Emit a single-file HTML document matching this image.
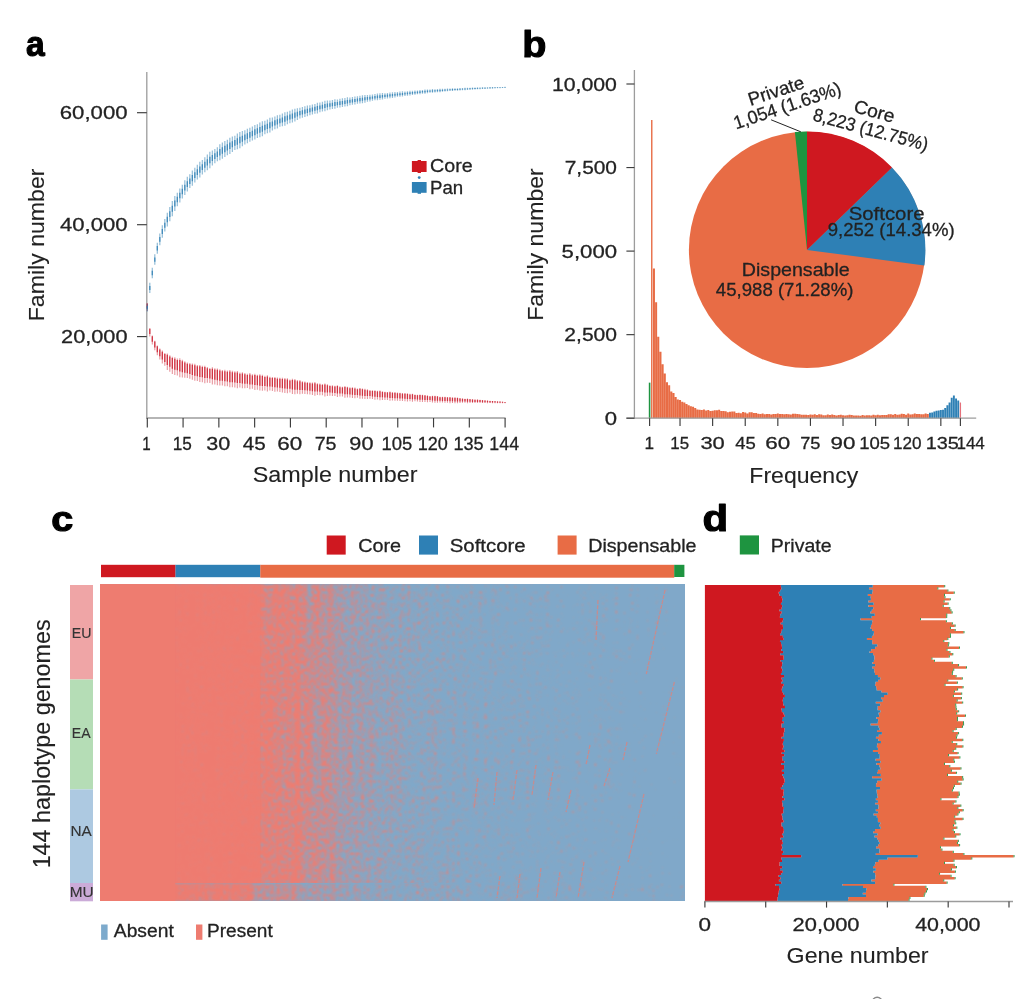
<!DOCTYPE html>
<html lang="en">
<head>
<meta charset="utf-8">
<title>Pan-genome figure</title>
<style>
html,body{margin:0;padding:0;background:#fff;}
body{width:1024px;height:999px;overflow:hidden;}
svg{display:block;}
svg text{font-family:"Liberation Sans",sans-serif;fill:#222222;stroke:#222222;stroke-width:0.28px;}
svg text.pl{fill:#000;stroke:#000;stroke-width:1.1px;stroke-linejoin:round;}
svg text.gl{fill:#333;stroke:#333;stroke-width:0.15px;}
svg text.bg{stroke-width:0.1px;}
</style>
</head>
<body>
<svg width="1024" height="999" viewBox="0 0 1024 999">
<g id="panel-a">
<text x="25.99" y="56.2" font-size="35.5" textLength="18.71" lengthAdjust="spacingAndGlyphs" font-weight="bold" class="pl">a</text>
<line x1="146.8" y1="72" x2="146.8" y2="418.6" stroke="#9c9c9c" stroke-width="1.3"/>
<line x1="146.2" y1="418" x2="505.6" y2="418" stroke="#9c9c9c" stroke-width="1.3"/>
<line x1="137" y1="112.7" x2="146.8" y2="112.7" stroke="#3c3c3c" stroke-width="1.15"/>
<text x="59.79" y="119.3" font-size="19.1" textLength="67.75" lengthAdjust="spacingAndGlyphs">60,000</text>
<line x1="137" y1="224.7" x2="146.8" y2="224.7" stroke="#3c3c3c" stroke-width="1.15"/>
<text x="59.96" y="231.3" font-size="19.1" textLength="67.59" lengthAdjust="spacingAndGlyphs">40,000</text>
<line x1="137" y1="336.6" x2="146.8" y2="336.6" stroke="#3c3c3c" stroke-width="1.15"/>
<text x="61.11" y="343.2" font-size="19.1" textLength="66.42" lengthAdjust="spacingAndGlyphs">20,000</text>
<line x1="147.3" y1="418" x2="147.3" y2="427.4" stroke="#3c3c3c" stroke-width="1.15"/>
<text x="142.36" y="449.7" font-size="18.8" textLength="8.44" lengthAdjust="spacingAndGlyphs">1</text>
<line x1="183.08" y1="418" x2="183.08" y2="427.4" stroke="#3c3c3c" stroke-width="1.15"/>
<text x="172.74" y="449.7" font-size="18.8" textLength="19.12" lengthAdjust="spacingAndGlyphs">15</text>
<line x1="218.86" y1="418" x2="218.86" y2="427.4" stroke="#3c3c3c" stroke-width="1.15"/>
<text x="206.35" y="449.7" font-size="18.8" textLength="23.97" lengthAdjust="spacingAndGlyphs">30</text>
<line x1="254.64" y1="418" x2="254.64" y2="427.4" stroke="#3c3c3c" stroke-width="1.15"/>
<text x="242.88" y="449.7" font-size="18.8" textLength="22.99" lengthAdjust="spacingAndGlyphs">45</text>
<line x1="290.42" y1="418" x2="290.42" y2="427.4" stroke="#3c3c3c" stroke-width="1.15"/>
<text x="277.3" y="449.7" font-size="18.8" textLength="24.96" lengthAdjust="spacingAndGlyphs">60</text>
<line x1="326.2" y1="418" x2="326.2" y2="427.4" stroke="#3c3c3c" stroke-width="1.15"/>
<text x="314.66" y="449.7" font-size="18.8" textLength="21.92" lengthAdjust="spacingAndGlyphs">75</text>
<line x1="361.98" y1="418" x2="361.98" y2="427.4" stroke="#3c3c3c" stroke-width="1.15"/>
<text x="349.36" y="449.7" font-size="18.8" textLength="24.08" lengthAdjust="spacingAndGlyphs">90</text>
<line x1="397.76" y1="418" x2="397.76" y2="427.4" stroke="#3c3c3c" stroke-width="1.15"/>
<text x="381.58" y="449.7" font-size="18.8" textLength="30.79" lengthAdjust="spacingAndGlyphs">105</text>
<line x1="433.54" y1="418" x2="433.54" y2="427.4" stroke="#3c3c3c" stroke-width="1.15"/>
<text x="417.63" y="449.7" font-size="18.8" textLength="30.15" lengthAdjust="spacingAndGlyphs">120</text>
<line x1="469.32" y1="418" x2="469.32" y2="427.4" stroke="#3c3c3c" stroke-width="1.15"/>
<text x="453.41" y="449.7" font-size="18.8" textLength="30.25" lengthAdjust="spacingAndGlyphs">135</text>
<line x1="505.1" y1="418" x2="505.1" y2="427.4" stroke="#3c3c3c" stroke-width="1.15"/>
<text x="489.36" y="449.7" font-size="18.8" textLength="29.73" lengthAdjust="spacingAndGlyphs">144</text>
<text x="252.75" y="481.7" font-size="21.5" textLength="164.7" lengthAdjust="spacingAndGlyphs" class="bg">Sample number</text>
<text x="-1.85" y="0" font-size="21.5" textLength="152.66" lengthAdjust="spacingAndGlyphs" class="bg" transform="translate(44.4 319.4) rotate(-90)">Family number</text>
<path d="M147.3 303v8M149.8 328.19v8.23M152.3 335.47v9.08M154.8 340.67v9.68M157.31 345.38v9.87M159.81 348.5v11.02M162.31 350.62v12.78M164.81 352.98v12.75M167.31 353.54v16.34M169.81 355.19v16.65M172.31 356.67v17.28M174.82 357.24v17.82M177.32 358.58v16.81M179.82 358.36v18.93M182.32 359.83v17.68M184.82 361.22v16.57M187.32 362.5v15.42M189.83 363v15.81M192.33 363.38v16.46M194.83 363.87v16.88M197.33 365.09v15.84M199.83 364.93v17.12M202.33 365.64v16.68M204.83 365.65v17.63M207.34 367.11v15.67M209.84 367.89v15.09M212.34 367.35v17.14M214.84 368.28v16.23M217.34 368.5v16.78M219.84 369.15v16.44M222.35 369.94v15.52M224.85 369.85v16.35M227.35 370.44v15.84M229.85 370.02v17.31M232.35 370.83v16.34M234.85 371.14v16.38M237.35 371.05v17.22M239.86 372.52v14.93M242.36 372.26v16.07M244.86 372.92v15.36M247.36 373.79v14.24M249.86 373.12v16.19M252.36 374.26v14.53M254.86 373.65v16.38M257.37 374.63v15.03M259.87 374.31v16.29M262.37 374.68v16.17M264.87 375.69v14.75M267.37 375.33v16.1M269.87 376.76v13.85M272.38 376.98v14.04M274.88 376.94v14.73M277.38 377.59v14.02M279.88 377.68v14.42M282.38 377.78v14.79M284.88 377.92v15.09M287.38 378.35v14.82M289.89 379.49v13.13M292.39 378.76v15.16M294.89 379.06v15.15M297.39 380.02v13.81M299.89 380.09v14.26M302.39 381.26v12.5M304.89 381.52v12.56M307.4 382.06v12.08M309.9 382.31v12.15M312.4 382.39v12.5M314.9 382.09v13.59M317.4 383.36v11.57M319.9 383.46v11.86M322.41 384.08v11.12M324.91 383.4v12.99M327.41 384.35v11.58M329.91 385.14v10.5M332.41 385.3v10.67M334.91 385.73v10.33M337.41 385.17v11.95M339.92 386.35v10.07M342.42 386.79v9.71M344.92 386.08v11.61M347.42 386.7v10.89M349.92 387.35v10.08M352.42 387.24v10.8M354.92 387.55v10.68M357.43 388.42v9.45M359.93 387.97v10.84M362.43 388.46v10.36M364.93 388.84v10.1M367.43 389.37v9.55M369.93 390.14v8.51M372.44 390.21v8.87M374.94 390.14v9.51M377.44 390.67v8.94M379.94 390.5v9.79M382.44 391.35v8.56M384.94 391.7v8.21M387.44 391.95v8.05M389.95 391.59v9.12M392.45 392.18v8.29M394.95 392.15v8.69M397.45 392.49v8.35M399.95 392.63v8.42M402.45 393.1v7.83M404.95 393.09v8.2M407.46 393.31v8.09M409.96 393.85v7.37M412.46 393.67v8.07M414.96 394.47v6.81M417.46 394.7v6.68M419.96 394.47v7.5M422.47 394.69v7.41M424.97 395.03v7.06M427.47 395.34v6.8M429.97 395.92v5.97M432.47 395.73v6.7M434.97 395.78v6.95M437.47 396.05v6.75M439.98 396.69v5.81M442.48 396.81v5.8M444.98 396.81v6.04M447.48 397.08v5.73M449.98 396.97v6.18M452.48 397.4v5.55M454.98 397.38v5.82M457.49 397.61v5.59M459.99 398.04v4.97M462.49 398.51v4.27M464.99 398.65v4.21M467.49 398.6v4.54M469.99 398.97v4.04M472.5 399.16v3.88M475 399.4v3.63M477.5 399.53v3.59M480 399.82v3.25M482.5 400.12v2.88M485 400.26v2.83M487.5 400.41v2.77M490.01 400.7v2.42M492.51 400.89v2.26M495.01 401.07v2.14M497.51 401.31v1.89M500.01 401.45v1.83M502.51 401.68v1.6M505.01 401.98v1.24" stroke="#CC2030" stroke-width="1.1" stroke-opacity="0.48" fill="none"/>
<path d="M147.3 303.64v4.96M149.8 328.85v5.1M152.3 336.19v5.63M154.8 341.44v6M157.31 346.16v6.12M159.81 349.38v6.83M162.31 351.64v7.93M164.81 354v7.91M167.31 354.84v10.13M169.81 356.52v10.32M172.31 358.05v10.71M174.82 358.66v11.05M177.32 359.93v10.42M179.82 359.88v11.73M182.32 361.24v10.96M184.82 362.55v10.27M187.32 363.73v9.56M189.83 364.27v9.8M192.33 364.7v10.2M194.83 365.22v10.47M197.33 366.35v9.82M199.83 366.3v10.62M202.33 366.97v10.34M204.83 367.06v10.93M207.34 368.36v9.72M209.84 369.09v9.35M212.34 368.72v10.63M214.84 369.58v10.06M217.34 369.84v10.4M219.84 370.47v10.19M222.35 371.18v9.63M224.85 371.16v10.14M227.35 371.7v9.82M229.85 371.41v10.73M232.35 372.14v10.13M234.85 372.45v10.16M237.35 372.42v10.68M239.86 373.71v9.26M242.36 373.54v9.96M244.86 374.15v9.53M247.36 374.93v8.83M249.86 374.42v10.04M252.36 375.42v9.01M254.86 374.96v10.15M257.37 375.83v9.32M259.87 375.61v10.1M262.37 375.97v10.02M264.87 376.88v9.15M267.37 376.62v9.98M269.87 377.87v8.59M272.38 378.1v8.7M274.88 378.12v9.13M277.38 378.71v8.69M279.88 378.83v8.94M282.38 378.97v9.17M284.88 379.13v9.36M287.38 379.54v9.19M289.89 380.54v8.14M292.39 379.98v9.4M294.89 380.27v9.39M297.39 381.13v8.56M299.89 381.23v8.84M302.39 382.26v7.75M304.89 382.53v7.79M307.4 383.02v7.49M309.9 383.29v7.53M312.4 383.39v7.75M314.9 383.18v8.43M317.4 384.28v7.17M319.9 384.41v7.35M322.41 384.97v6.89M324.91 384.44v8.05M327.41 385.28v7.18M329.91 385.98v6.51M332.41 386.16v6.62M334.91 386.55v6.4M337.41 386.12v7.41M339.92 387.16v6.25M342.42 387.57v6.02M344.92 387.01v7.2M347.42 387.57v6.75M349.92 388.16v6.25M352.42 388.11v6.69M354.92 388.4v6.62M357.43 389.18v5.86M359.93 388.84v6.72M362.43 389.29v6.42M364.93 389.65v6.26M367.43 390.13v5.92M369.93 390.82v5.28M372.44 390.92v5.5M374.94 390.9v5.9M377.44 391.39v5.55M379.94 391.28v6.07M382.44 392.03v5.31M384.94 392.36v5.09M387.44 392.59v4.99M389.95 392.32v5.65M392.45 392.84v5.14M394.95 392.84v5.39M397.45 393.16v5.17M399.95 393.3v5.22M402.45 393.72v4.85M404.95 393.74v5.08M407.46 393.96v5.02M409.96 394.43v4.57M412.46 394.31v5M414.96 395.01v4.22M417.46 395.24v4.14M419.96 395.07v4.65M422.47 395.28v4.59M424.97 395.6v4.38M427.47 395.88v4.21M429.97 396.4v3.7M432.47 396.27v4.15M434.97 396.34v4.31M437.47 396.59v4.18M439.98 397.16v3.6M442.48 397.28v3.6M444.98 397.29v3.75M447.48 397.54v3.55M449.98 397.46v3.83M452.48 397.84v3.44M454.98 397.85v3.61M457.49 398.06v3.47M459.99 398.43v3.08M462.49 398.85v2.64M464.99 398.98v2.61M467.49 398.96v2.81M469.99 399.29v2.5M472.5 399.47v2.41M475 399.69v2.25M477.5 399.82v2.23M480 400.08v2.01M482.5 400.35v1.79M485 400.49v1.76M487.5 400.63v1.72M490.01 400.89v1.5M492.51 401.08v1.4M495.01 401.24v1.33M497.51 401.46v1.17M500.01 401.6v1.13M502.51 401.81v0.99M505.01 402.08v0.77" stroke="#CC2030" stroke-width="1.3" stroke-opacity="0.85" fill="none"/>
<path d="M147.3 303.71v7.77M149.8 282.87v10.24M152.3 267.63v10.73M154.8 254.34v10.53M157.31 242.63v11.11M159.81 233.59v11.55M162.31 225.13v12.65M164.81 219.01v12.41M167.31 212.64v13.88M169.81 207.02v14.17M172.31 201.12v15.17M174.82 195.99v15.01M177.32 192.79v13.49M179.82 188.58v13.96M182.32 184.71v13.76M184.82 180.16v14.92M187.32 176.73v14.81M189.83 174.25v13.76M192.33 170.46v15.33M194.83 167.85v14.55M197.33 164.67v14.91M199.83 161.75v15.76M202.33 159.96v14.46M204.83 157.17v15.16M207.34 154.48v15.68M209.84 151.87v16.31M212.34 150.61v14.98M214.84 148.98v14.35M217.34 147.17v14.1M219.84 144.34v15.9M222.35 142.5v16.19M224.85 141.12v15.78M227.35 139.66v15.52M229.85 137.74v16.18M232.35 136.6v15.31M234.85 135.71v14.32M237.35 133.58v15.79M239.86 131.96v16.25M242.36 131.1v15.19M244.86 130.2v14.32M247.36 128.83v14.51M249.86 127.77v14.08M252.36 126.5v14.09M254.86 125v14.54M257.37 124.26v13.64M259.87 122.62v14.56M262.37 121.23v15M264.87 120.75v13.6M267.37 119.57v13.61M269.87 117.82v14.76M272.38 117.59v12.87M274.88 116.43v12.83M277.38 115.13v13.41M279.88 114.86v12.01M282.38 113.6v12.61M284.88 112.13v13.62M287.38 111.7v12.56M289.89 110.66v12.7M292.39 109.57v12.95M294.89 108.72v12.72M297.39 108.3v11.62M299.89 107.7v10.91M302.39 107.01v10.67M304.89 106.25v10.77M307.4 105.51v10.84M309.9 105.18v10.07M312.4 104.47v10.09M314.9 103.91v9.8M317.4 102.79v10.62M319.9 102.46v9.84M322.41 101.75v9.86M324.91 100.74v10.45M327.41 100.55v9.67M329.91 100.47v8.92M332.41 99.91v9.14M334.91 99.18v9.68M337.41 99.4v8.34M339.92 98.67v8.89M342.42 98.3v8.73M344.92 97.94v8.54M347.42 97.35v8.82M349.92 97.38v7.86M352.42 97.08v7.58M354.92 96.52v7.88M357.43 96.33v7.47M359.93 95.71v7.88M362.43 95.37v7.76M364.93 95.08v7.55M367.43 95.09v6.71M369.93 94.69v6.69M372.44 94.55v6.18M374.94 94.1v6.27M377.44 93.44v6.82M379.94 93.24v6.62M382.44 93.03v6.46M384.94 93.16v5.6M387.44 92.96v5.42M389.95 92.55v5.64M392.45 92.25v5.66M394.95 92.12v5.33M397.45 92.11v4.75M399.95 91.54v5.3M402.45 91.37v5.05M404.95 91.39v4.5M407.46 91.13v4.5M409.96 90.7v4.85M412.46 90.71v4.33M414.96 90.4v4.43M417.46 90.4v3.92M419.96 89.95v4.31M422.47 89.99v3.71M424.97 89.53v4.11M427.47 89.53v3.62M429.97 89.47v3.38M432.47 89.12v3.74M434.97 89.13v3.37M437.47 89.05v3.21M439.98 88.84v3.29M442.48 88.87v2.9M444.98 88.76v2.78M447.48 88.62v2.72M449.98 88.52v2.59M452.48 88.34v2.62M454.98 88.19v2.64M457.49 88.13v2.5M459.99 88.02v2.46M462.49 87.92v2.4M464.99 87.85v2.29M467.49 87.83v2.06M469.99 87.71v2.05M472.5 87.52v2.17M475 87.5v1.96M477.5 87.37v1.96M480 87.37v1.76M482.5 87.3v1.73M485 87.18v1.8M487.5 87.17v1.66M490.01 87.08v1.67M492.51 87.07v1.52M495.01 87.04v1.41M497.51 87v1.32M500.01 86.95v1.25M502.51 86.88v1.22M505.01 86.82v1.18" stroke="#2E7FB4" stroke-width="1.25" stroke-opacity="0.5" fill="none"/>
<path d="M147.3 306.05v3.11M149.8 285.95v4.1M152.3 270.85v4.29M154.8 257.5v4.21M157.31 245.96v4.44M159.81 237.05v4.62M162.31 228.92v5.06M164.81 222.74v4.96M167.31 216.8v5.55M169.81 211.27v5.67M172.31 205.68v6.07M174.82 200.5v6.01M177.32 196.83v5.39M179.82 192.77v5.58M182.32 188.84v5.5M184.82 184.64v5.97M187.32 181.17v5.92M189.83 178.38v5.5M192.33 175.06v6.13M194.83 172.22v5.82M197.33 169.14v5.96M199.83 166.47v6.3M202.33 164.3v5.78M204.83 161.72v6.06M207.34 159.18v6.27M209.84 156.77v6.53M212.34 155.1v5.99M214.84 153.29v5.74M217.34 151.4v5.64M219.84 149.11v6.36M222.35 147.35v6.48M224.85 145.85v6.31M227.35 144.31v6.21M229.85 142.59v6.47M232.35 141.2v6.12M234.85 140v5.73M237.35 138.32v6.32M239.86 136.83v6.5M242.36 135.65v6.08M244.86 134.5v5.73M247.36 133.19v5.8M249.86 132v5.63M252.36 130.73v5.63M254.86 129.36v5.82M257.37 128.35v5.46M259.87 126.99v5.83M262.37 125.73v6M264.87 124.83v5.44M267.37 123.65v5.44M269.87 122.25v5.9M272.38 121.45v5.15M274.88 120.28v5.13M277.38 119.15v5.37M279.88 118.47v4.81M282.38 117.39v5.04M284.88 116.22v5.45M287.38 115.47v5.02M289.89 114.47v5.08M292.39 113.46v5.18M294.89 112.54v5.09M297.39 111.79v4.65M299.89 110.97v4.36M302.39 110.21v4.27M304.89 109.48v4.31M307.4 108.76v4.34M309.9 108.21v4.03M312.4 107.49v4.04M314.9 106.84v3.92M317.4 105.97v4.25M319.9 105.42v3.94M322.41 104.7v3.94M324.91 103.88v4.18M327.41 103.45v3.87M329.91 103.14v3.57M332.41 102.65v3.66M334.91 102.09v3.87M337.41 101.9v3.33M339.92 101.34v3.56M342.42 100.92v3.49M344.92 100.5v3.42M347.42 99.99v3.53M349.92 99.73v3.14M352.42 99.35v3.03M354.92 98.89v3.15M357.43 98.57v2.99M359.93 98.08v3.15M362.43 97.7v3.1M364.93 97.34v3.02M367.43 97.1v2.68M369.93 96.7v2.68M372.44 96.4v2.47M374.94 95.98v2.51M377.44 95.48v2.73M379.94 95.23v2.65M382.44 94.96v2.59M384.94 94.84v2.24M387.44 94.58v2.17M389.95 94.24v2.26M392.45 93.94v2.26M394.95 93.71v2.13M397.45 93.54v1.9M399.95 93.13v2.12M402.45 92.88v2.02M404.95 92.74v1.8M407.46 92.48v1.8M409.96 92.16v1.94M412.46 92.01v1.73M414.96 91.73v1.77M417.46 91.57v1.57M419.96 91.24v1.72M422.47 91.1v1.48M424.97 90.77v1.65M427.47 90.61v1.45M429.97 90.48v1.35M432.47 90.24v1.49M434.97 90.15v1.35M437.47 90.01v1.28M439.98 89.83v1.32M442.48 89.74v1.16M444.98 89.59v1.11M447.48 89.44v1.09M449.98 89.3v1.04M452.48 89.12v1.05M454.98 88.98v1.06M457.49 88.88v1M459.99 88.76v0.98M462.49 88.64v0.96M464.99 88.54v0.92M467.49 88.45v0.82M469.99 88.33v0.82M472.5 88.17v0.87M475 88.09v0.79M477.5 87.96v0.79M480 87.9v0.7M482.5 87.82v0.69M485 87.72v0.72M487.5 87.66v0.66M490.01 87.58v0.67M492.51 87.52v0.61M495.01 87.46v0.57M497.51 87.39v0.53M500.01 87.32v0.5M502.51 87.25v0.49M505.01 87.17v0.47" stroke="#2E7FB4" stroke-width="1.35" stroke-opacity="0.8" fill="none"/>
<rect x="411.9" y="161" width="14.7" height="11" fill="#CF1820"/>
<rect x="417.6" y="160" width="3.4" height="13" fill="#CF1820"/>
<circle cx="419.2" cy="177.6" r="1.4" fill="#2E80B5"/>
<rect x="411.9" y="182" width="14.7" height="10.8" fill="#2E80B5"/>
<rect x="417.6" y="182" width="3.4" height="11.8" fill="#2E80B5"/>
<text x="430.12" y="172.4" font-size="18.5" textLength="42.62" lengthAdjust="spacingAndGlyphs">Core</text>
<text x="430.01" y="193.7" font-size="18.5" textLength="33.19" lengthAdjust="spacingAndGlyphs">Pan</text>
</g>
<g id="panel-b">
<text x="522.23" y="56.6" font-size="37.2" textLength="24.19" lengthAdjust="spacingAndGlyphs" font-weight="bold" class="pl">b</text>
<path d="M649.6 418.2v-35.56" stroke="#1E9440" stroke-width="1.6" fill="none"/>
<path d="M651.77 418.2v-298.21" stroke="#E86C45" stroke-width="1.4" fill="none"/>
<path d="M960.4 418.2v-15.7" stroke="#E5707A" stroke-width="1.3" fill="none"/>
<path d="M653.95 418.2v-149.82M656.12 418.2v-115.83M658.29 418.2v-81.34M660.47 418.2v-66.47M662.64 418.2v-53.97M664.81 418.2v-44.62M666.99 418.2v-36.03M669.16 418.2v-32.89M671.33 418.2v-26.74M673.51 418.2v-25.1M675.68 418.2v-21.19M677.85 418.2v-18.72M680.03 418.2v-18.08M682.2 418.2v-16.51M684.37 418.2v-15.64M686.55 418.2v-14.17M688.72 418.2v-12.87M690.89 418.2v-11.83M693.07 418.2v-11.53M695.24 418.2v-10.26M697.41 418.2v-8.72M699.59 418.2v-8.36M701.76 418.2v-8.19M703.94 418.2v-8.76M706.11 418.2v-7.75M708.28 418.2v-8.19M710.46 418.2v-7.15M712.63 418.2v-7.52M714.8 418.2v-7.98M716.98 418.2v-7.96M719.15 418.2v-8.52M721.32 418.2v-7.24M723.5 418.2v-7.11M725.67 418.2v-7.07M727.84 418.2v-6.06M730.02 418.2v-6.53M732.19 418.2v-6.58M734.36 418.2v-6.71M736.54 418.2v-5.28M738.71 418.2v-5.53M740.88 418.2v-5.03M743.06 418.2v-6.13M745.23 418.2v-5.8M747.4 418.2v-4.63M749.58 418.2v-6.02M751.75 418.2v-5.88M753.92 418.2v-5.29M756.1 418.2v-5.13M758.27 418.2v-4.37M760.44 418.2v-4.09M762.62 418.2v-4.74M764.79 418.2v-4.02M766.96 418.2v-4.13M769.14 418.2v-4.13M771.31 418.2v-3.79M773.48 418.2v-4.3M775.66 418.2v-4.21M777.83 418.2v-4.65M780 418.2v-4.19M782.18 418.2v-4.28M784.35 418.2v-4.05M786.52 418.2v-4.2M788.7 418.2v-3.9M790.87 418.2v-3.64M793.04 418.2v-4.43M795.22 418.2v-4.38M797.39 418.2v-4.15M799.56 418.2v-3.96M801.74 418.2v-3.48M803.91 418.2v-3.35M806.08 418.2v-3.38M808.26 418.2v-3.11M810.43 418.2v-3.82M812.61 418.2v-3.4M814.78 418.2v-3.83M816.95 418.2v-3.32M819.13 418.2v-3.87M821.3 418.2v-3.73M823.47 418.2v-2.84M825.65 418.2v-3.03M827.82 418.2v-3.69M829.99 418.2v-3.23M832.17 418.2v-3.7M834.34 418.2v-3.11M836.51 418.2v-2.78M838.69 418.2v-3.29M840.86 418.2v-3.4M843.03 418.2v-2.9M845.21 418.2v-2.71M847.38 418.2v-2.92M849.55 418.2v-3.48M851.73 418.2v-3.27M853.9 418.2v-2.67M856.07 418.2v-2.76M858.25 418.2v-2.62M860.42 418.2v-2.56M862.59 418.2v-3.2M864.77 418.2v-2.64M866.94 418.2v-3.03M869.11 418.2v-2.98M871.29 418.2v-2.8M873.46 418.2v-3.36M875.63 418.2v-2.85M877.81 418.2v-3.4M879.98 418.2v-2.94M882.15 418.2v-3.3M884.33 418.2v-3.14M886.5 418.2v-3.26M888.67 418.2v-4.06M890.85 418.2v-3.95M893.02 418.2v-3.46M895.19 418.2v-4.17M897.37 418.2v-3.47M899.54 418.2v-3.74M901.71 418.2v-4.34M903.89 418.2v-4.15M906.06 418.2v-3.56M908.23 418.2v-4.71M910.41 418.2v-3.81M912.58 418.2v-3.93M914.75 418.2v-4.65M916.93 418.2v-4.13M919.1 418.2v-4.15M921.28 418.2v-3.91M923.45 418.2v-3.99M925.62 418.2v-4.73M927.8 418.2v-4.32" stroke="#E86C45" stroke-width="2.02" fill="none"/>
<path d="M929.97 418.2v-5.5M932.14 418.2v-5.6M934.32 418.2v-6.8M936.49 418.2v-7.5M938.66 418.2v-7.6M940.84 418.2v-8.2M943.01 418.2v-8.5M945.18 418.2v-10.2M947.36 418.2v-13M949.53 418.2v-15.7M951.7 418.2v-20.5M953.88 418.2v-22.6M956.05 418.2v-19.8M958.22 418.2v-17.8" stroke="#2E80B5" stroke-width="1.9" fill="none"/>
<line x1="634.4" y1="70" x2="634.4" y2="418.8" stroke="#9c9c9c" stroke-width="1.3"/>
<line x1="626.4" y1="418.2" x2="976.2" y2="418.2" stroke="#9c9c9c" stroke-width="1.3"/>
<line x1="626.4" y1="84" x2="634.4" y2="84" stroke="#3c3c3c" stroke-width="1.15"/>
<text x="552.01" y="90.7" font-size="18" textLength="64.91" lengthAdjust="spacingAndGlyphs">10,000</text>
<line x1="626.4" y1="167.55" x2="634.4" y2="167.55" stroke="#3c3c3c" stroke-width="1.15"/>
<text x="564.76" y="174.25" font-size="18" textLength="52.23" lengthAdjust="spacingAndGlyphs">7,500</text>
<line x1="626.4" y1="251.1" x2="634.4" y2="251.1" stroke="#3c3c3c" stroke-width="1.15"/>
<text x="561.61" y="257.8" font-size="18" textLength="55.42" lengthAdjust="spacingAndGlyphs">5,000</text>
<line x1="626.4" y1="334.65" x2="634.4" y2="334.65" stroke="#3c3c3c" stroke-width="1.15"/>
<text x="564.35" y="341.35" font-size="18" textLength="52.64" lengthAdjust="spacingAndGlyphs">2,500</text>
<line x1="626.4" y1="418.2" x2="634.4" y2="418.2" stroke="#3c3c3c" stroke-width="1.15"/>
<text x="604.72" y="424.9" font-size="18" textLength="12.28" lengthAdjust="spacingAndGlyphs">0</text>
<line x1="649.6" y1="418.2" x2="649.6" y2="425.9" stroke="#3c3c3c" stroke-width="1.15"/>
<text x="649.3" y="449.2" font-size="17.2" text-anchor="middle">1</text>
<line x1="680.03" y1="418.2" x2="680.03" y2="425.9" stroke="#3c3c3c" stroke-width="1.15"/>
<text x="670.36" y="449.2" font-size="17.2" textLength="18.78" lengthAdjust="spacingAndGlyphs">15</text>
<line x1="712.63" y1="418.2" x2="712.63" y2="425.9" stroke="#3c3c3c" stroke-width="1.15"/>
<text x="700.4" y="449.2" font-size="17.2" textLength="24.4" lengthAdjust="spacingAndGlyphs">30</text>
<line x1="745.23" y1="418.2" x2="745.23" y2="425.9" stroke="#3c3c3c" stroke-width="1.15"/>
<text x="735.16" y="449.2" font-size="17.2" textLength="20.55" lengthAdjust="spacingAndGlyphs">45</text>
<line x1="777.83" y1="418.2" x2="777.83" y2="425.9" stroke="#3c3c3c" stroke-width="1.15"/>
<text x="765.21" y="449.2" font-size="17.2" textLength="24.96" lengthAdjust="spacingAndGlyphs">60</text>
<line x1="810.43" y1="418.2" x2="810.43" y2="425.9" stroke="#3c3c3c" stroke-width="1.15"/>
<text x="800.22" y="449.2" font-size="17.2" textLength="20.28" lengthAdjust="spacingAndGlyphs">75</text>
<line x1="843.03" y1="418.2" x2="843.03" y2="425.9" stroke="#3c3c3c" stroke-width="1.15"/>
<text x="830.53" y="449.2" font-size="17.2" textLength="24.84" lengthAdjust="spacingAndGlyphs">90</text>
<line x1="875.63" y1="418.2" x2="875.63" y2="425.9" stroke="#3c3c3c" stroke-width="1.15"/>
<text x="859.29" y="449.2" font-size="17.2" textLength="30.89" lengthAdjust="spacingAndGlyphs">105</text>
<line x1="908.23" y1="418.2" x2="908.23" y2="425.9" stroke="#3c3c3c" stroke-width="1.15"/>
<text x="893.05" y="449.2" font-size="17.2" textLength="28.54" lengthAdjust="spacingAndGlyphs">120</text>
<line x1="940.84" y1="418.2" x2="940.84" y2="425.9" stroke="#3c3c3c" stroke-width="1.15"/>
<text x="925.75" y="449.2" font-size="17.2" textLength="33.16" lengthAdjust="spacingAndGlyphs">135</text>
<line x1="960.4" y1="418.2" x2="960.4" y2="425.9" stroke="#3c3c3c" stroke-width="1.15"/>
<text x="956.42" y="449.2" font-size="17.2" textLength="28.45" lengthAdjust="spacingAndGlyphs">144</text>
<text x="749.36" y="482.7" font-size="21.5" textLength="108.84" lengthAdjust="spacingAndGlyphs" class="bg">Frequency</text>
<text x="-1.85" y="0" font-size="21.5" textLength="152.66" lengthAdjust="spacingAndGlyphs" class="bg" transform="translate(543.3 319) rotate(-90)">Family number</text>
<circle cx="807" cy="249.9" r="118.1" fill="#E86C45"/>
<path d="M807 249.9L807 131.5A118.4 118.4 0 0 1 892.03 167.5Z" fill="#CF1820"/>
<path d="M807 249.9L892.03 167.5A118.4 118.4 0 0 1 924.38 265.4Z" fill="#2E80B5"/>
<path d="M807 249.9L794.9 132.12A118.4 118.4 0 0 1 807 131.5Z" fill="#1E9440"/>
<line x1="771.1" y1="119.8" x2="800.8" y2="131.8" stroke="#222" stroke-width="1"/>
<text x="741.83" y="275.9" font-size="18.5" textLength="107.92" lengthAdjust="spacingAndGlyphs">Dispensable</text>
<text x="715.83" y="295.5" font-size="18.5" textLength="137.57" lengthAdjust="spacingAndGlyphs">45,988 (71.28%)</text>
<text x="848.68" y="220.4" font-size="18.5" textLength="75.82" lengthAdjust="spacingAndGlyphs">Softcore</text>
<text x="827.66" y="236.4" font-size="18.5" textLength="127.01" lengthAdjust="spacingAndGlyphs">9,252 (14.34%)</text>
<text x="-1.5" y="0" font-size="18.5" textLength="58.18" lengthAdjust="spacingAndGlyphs" transform="translate(751.8 105.5) rotate(-18.3)">Private</text>
<text x="-1.34" y="0" font-size="18.5" textLength="112.45" lengthAdjust="spacingAndGlyphs" transform="translate(737.2 129.1) rotate(-18.6)">1,054 (1.63%)</text>
<text x="-0.96" y="0" font-size="18.5" textLength="41.57" lengthAdjust="spacingAndGlyphs" transform="translate(853.6 111.9) rotate(15.7)">Core</text>
<text x="-0.78" y="0" font-size="18.5" textLength="118.17" lengthAdjust="spacingAndGlyphs" transform="translate(812.8 120.5) rotate(15)">8,223 (12.75%)</text>
</g>
<g id="panel-c">
<text x="51.22" y="530.8" font-size="34.5" textLength="22.02" lengthAdjust="spacingAndGlyphs" font-weight="bold" class="pl">c</text>
<rect x="326.7" y="535.5" width="19" height="19.1" fill="#CF1820"/>
<text x="358.21" y="552.3" font-size="18.5" textLength="42.93" lengthAdjust="spacingAndGlyphs">Core</text>
<rect x="419" y="535.5" width="19" height="19.1" fill="#2E80B5"/>
<text x="449.68" y="552.3" font-size="18.5" textLength="76.02" lengthAdjust="spacingAndGlyphs">Softcore</text>
<rect x="557.6" y="535.5" width="19" height="19.1" fill="#E86C45"/>
<text x="588.23" y="552.3" font-size="18.5" textLength="108.23" lengthAdjust="spacingAndGlyphs">Dispensable</text>
<rect x="739.8" y="535.4" width="19.2" height="19.1" fill="#1E9440"/>
<text x="770.84" y="552.4" font-size="18.5" textLength="60.68" lengthAdjust="spacingAndGlyphs">Private</text>
<rect x="101" y="564.8" width="74.6" height="12.4" fill="#CF1820"/>
<rect x="175.5" y="564.8" width="84.9" height="12.4" fill="#2E80B5"/>
<rect x="260.3" y="564.8" width="414" height="12.9" fill="#E86C45"/>
<rect x="674.2" y="564.8" width="10.2" height="12.2" fill="#1E9440"/>
<rect x="70" y="585" width="23" height="94.5" fill="#EFA5A6"/>
<rect x="70" y="679.5" width="23" height="109.9" fill="#B5DDB6"/>
<rect x="70" y="789.4" width="23" height="93.6" fill="#ADC9E1"/>
<rect x="70" y="883" width="23" height="18.3" fill="#CBABD8"/>
<text x="71.87" y="637.8" font-size="14.6" textLength="19.65" lengthAdjust="spacingAndGlyphs" class="gl">EU</text>
<text x="71.77" y="738.2" font-size="14.6" textLength="18.78" lengthAdjust="spacingAndGlyphs" class="gl">EA</text>
<text x="70.47" y="836.2" font-size="14.6" textLength="21.29" lengthAdjust="spacingAndGlyphs" class="gl">NA</text>
<text x="69.67" y="896.8" font-size="14.6" textLength="24" lengthAdjust="spacingAndGlyphs" class="gl">MU</text>
<text x="-1.75" y="0" font-size="23" textLength="248.97" lengthAdjust="spacingAndGlyphs" class="bg" transform="translate(49.8 866.6) rotate(-90)">144 haplotype genomes</text>
<defs>
<linearGradient id="hmAvg" x1="0" x2="1" y1="0" y2="0">
<stop offset="0%" stop-color="#ee7c70"/>
<stop offset="12.9%" stop-color="#ee7c70"/>
<stop offset="13%" stop-color="#ec7d71"/>
<stop offset="19.68%" stop-color="#eb7d72"/>
<stop offset="27.31%" stop-color="#e97e74"/>
<stop offset="27.48%" stop-color="#df827c"/>
<stop offset="30.8%" stop-color="#dd837e"/>
<stop offset="33.2%" stop-color="#da8481"/>
<stop offset="33.45%" stop-color="#e58077"/>
<stop offset="34.14%" stop-color="#e38179"/>
<stop offset="34.48%" stop-color="#cc8a8c"/>
<stop offset="37.65%" stop-color="#c48d92"/>
<stop offset="39.87%" stop-color="#bb9199"/>
<stop offset="40.73%" stop-color="#a899a9"/>
<stop offset="46.2%" stop-color="#979fb7"/>
<stop offset="51.33%" stop-color="#8da3bf"/>
<stop offset="58.18%" stop-color="#87a6c4"/>
<stop offset="65.02%" stop-color="#83a8c7"/>
<stop offset="75.29%" stop-color="#80a9ca"/>
<stop offset="85.56%" stop-color="#7fa9cb"/>
<stop offset="98.22%" stop-color="#7eaacb"/>
<stop offset="100%" stop-color="#7eaacc"/>
</linearGradient>
<linearGradient id="hmBias" x1="0" x2="1" y1="0" y2="0">
<stop offset="0%" stop-color="#000" stop-opacity="0.900"/>
<stop offset="12.9%" stop-color="#000" stop-opacity="0.900"/>
<stop offset="13%" stop-color="#000" stop-opacity="0.724"/>
<stop offset="19.68%" stop-color="#000" stop-opacity="0.709"/>
<stop offset="27.31%" stop-color="#000" stop-opacity="0.687"/>
<stop offset="27.48%" stop-color="#000" stop-opacity="0.628"/>
<stop offset="30.8%" stop-color="#000" stop-opacity="0.617"/>
<stop offset="33.2%" stop-color="#000" stop-opacity="0.602"/>
<stop offset="33.45%" stop-color="#000" stop-opacity="0.659"/>
<stop offset="34.14%" stop-color="#000" stop-opacity="0.643"/>
<stop offset="34.48%" stop-color="#000" stop-opacity="0.557"/>
<stop offset="37.65%" stop-color="#000" stop-opacity="0.537"/>
<stop offset="39.87%" stop-color="#000" stop-opacity="0.514"/>
<stop offset="40.73%" stop-color="#000" stop-opacity="0.469"/>
<stop offset="46.2%" stop-color="#000" stop-opacity="0.418"/>
<stop offset="51.33%" stop-color="#000" stop-opacity="0.378"/>
<stop offset="58.18%" stop-color="#000" stop-opacity="0.342"/>
<stop offset="65.02%" stop-color="#000" stop-opacity="0.318"/>
<stop offset="75.29%" stop-color="#000" stop-opacity="0.291"/>
<stop offset="85.56%" stop-color="#000" stop-opacity="0.277"/>
<stop offset="98.22%" stop-color="#000" stop-opacity="0.214"/>
<stop offset="100%" stop-color="#000" stop-opacity="0.175"/>
</linearGradient>
<linearGradient id="hmBiasMU" x1="0" x2="1" y1="0" y2="0">
<stop offset="0%" stop-color="#000" stop-opacity="0.900"/>
<stop offset="12.9%" stop-color="#000" stop-opacity="0.900"/>
<stop offset="13%" stop-color="#000" stop-opacity="0.643"/>
<stop offset="26.01%" stop-color="#000" stop-opacity="0.623"/>
<stop offset="26.18%" stop-color="#000" stop-opacity="0.517"/>
<stop offset="34.22%" stop-color="#000" stop-opacity="0.489"/>
<stop offset="37.65%" stop-color="#000" stop-opacity="0.462"/>
<stop offset="41.07%" stop-color="#000" stop-opacity="0.429"/>
<stop offset="46.2%" stop-color="#000" stop-opacity="0.402"/>
<stop offset="51.33%" stop-color="#000" stop-opacity="0.375"/>
<stop offset="58.18%" stop-color="#000" stop-opacity="0.353"/>
<stop offset="65.02%" stop-color="#000" stop-opacity="0.332"/>
<stop offset="75.29%" stop-color="#000" stop-opacity="0.307"/>
<stop offset="85.56%" stop-color="#000" stop-opacity="0.291"/>
<stop offset="100%" stop-color="#000" stop-opacity="0.271"/>
</linearGradient>
<filter id="hmNoise" x="0" y="0" width="1" height="1" color-interpolation-filters="sRGB"><feTurbulence type="fractalNoise" baseFrequency="0.62 0.36" numOctaves="1" seed="5" result="t"/><feColorMatrix in="t" type="matrix" values="0 0 0 0 0  0 0 0 0 0  0 0 0 0 0  1 0 0 0 0" result="na"/><feTurbulence type="fractalNoise" baseFrequency="0.55 0.006" numOctaves="1" seed="11" result="t2"/><feColorMatrix in="t2" type="matrix" values="0 0 0 0 0  0 0 0 0 0  0 0 0 0 0  1 0 0 0 0" result="nb"/><feComposite in="SourceGraphic" in2="na" operator="arithmetic" k1="0" k2="1" k3="0.93" k4="-0.22" result="s1"/><feComposite in="s1" in2="nb" operator="arithmetic" k1="0" k2="1" k3="0.36" k4="-0.43" result="s"/><feComponentTransfer in="s" result="m0"><feFuncA type="linear" slope="8" intercept="-3.5"/></feComponentTransfer><feGaussianBlur in="m0" stdDeviation="0.8" result="m1"/><feComponentTransfer in="m1" result="m"><feFuncA type="linear" slope="0.97" intercept="0.03"/></feComponentTransfer><feFlood flood-color="#EE7C70" result="fs"/><feComposite in="fs" in2="m" operator="in" result="sal"/><feFlood flood-color="#7DAACC" result="fb"/><feMerge><feMergeNode in="fb"/><feMergeNode in="sal"/></feMerge></filter>
</defs>
<rect x="100" y="584.1" width="584.4" height="316.9" fill="url(#hmAvg)"/>
<rect x="100" y="584.1" width="584.4" height="316.9" fill="url(#hmBias)" filter="url(#hmNoise)"/>
<rect x="100" y="883.4" width="584.4" height="17.6" fill="url(#hmBiasMU)" filter="url(#hmNoise)"/>
<rect x="175.4" y="584.1" width="84.9" height="299.3" fill="#EE7C70" fill-opacity="0.72"/>
<rect x="175.4" y="883.4" width="77" height="17.6" fill="#EE7C70" fill-opacity="0.35"/>
<rect x="100" y="584.1" width="75.4" height="316.9" fill="#EE7C70"/>
<path d="M665.1 590L646.3 674M674.4 682L656.3 754M644 794L628 862M610 768L604 786M598 600L596 640M571 790L566 812M553 772L548 800M536 765L532 795M517 770L513 800M497 772L494 805M478 778L474 808M620 866L612 898M584 862L578 898M560 872L556 898M541 868L537 898M520 874L517 898M500 876L497 898M590 745L586 765M627 742L623 760" stroke="#EE7C70" stroke-width="1.3" stroke-opacity="0.62" stroke-dasharray="4 1.2" fill="none"/>
<rect x="101.1" y="924.5" width="6.5" height="15.3" fill="#7DAACC"/>
<text x="113.8" y="937.2" font-size="18" textLength="59.96" lengthAdjust="spacingAndGlyphs">Absent</text>
<rect x="196" y="924.5" width="6.4" height="15.3" fill="#EE7C70"/>
<text x="207.08" y="937.2" font-size="18" textLength="65.65" lengthAdjust="spacingAndGlyphs">Present</text>
</g>
<g id="panel-d">
<text x="702.62" y="531.1" font-size="37.2" textLength="25.64" lengthAdjust="spacingAndGlyphs" font-weight="bold" class="pl">d</text>
<path d="M872.77 585H944.31v2.45H872.77zM869.03 587.2H937.41v2.45H869.03zM872.68 589.39H947.47v2.45H872.68zM872.23 591.59H953.79v2.45H872.23zM867.89 593.78H944.02v2.45H867.89zM870.7 595.98H944.53v2.45H870.7zM870.91 598.17H949.81v2.45H870.91zM868.3 600.37H943.67v2.45H868.3zM873.65 602.57H947.68v2.45H873.65zM868.38 604.76H942.77v2.45H868.38zM873.18 606.96H949.36v2.45H873.18zM871.83 609.15H950.5v2.45H871.83zM870.39 611.35H951.67v2.45H870.39zM874.78 613.55H946.36v2.45H874.78zM871.74 615.74H946.29v2.45H871.74zM860.5 617.94H920v2.45H860.5zM872.3 620.13H945.92v2.45H872.3zM871.96 622.33H951.86v2.45H871.96zM870.94 624.52H954.68v2.45H870.94zM870.62 626.72H949.96v2.45H870.62zM872.14 628.92H954.74v2.45H872.14zM873.92 631.11H963.54v2.45H873.92zM873.55 633.31H949.92v2.45H873.55zM871.92 635.5H950.11v2.45H871.92zM866.95 637.7H947.43v2.45H866.95zM872.18 639.9H943.4v2.45H872.18zM872.19 642.09H948.4v2.45H872.19zM877.26 644.29H947.85v2.45H877.26zM875.14 646.48H958.99v2.45H875.14zM871.18 648.68H946.56v2.45H871.18zM869.49 650.88H949.51v2.45H869.49zM873.09 653.07H952.37v2.45H873.09zM874.29 655.27H948.82v2.45H874.29zM874.33 657.46H931.5v2.45H874.33zM873.89 659.66H934v2.45H873.89zM872.4 661.85H951.82v2.45H872.4zM875.09 664.05H958.16v2.45H875.09zM872.13 666.25H966.02v2.45H872.13zM874.14 668.44H953.34v2.45H874.14zM874.3 670.64H952.22v2.45H874.3zM874.98 672.83H951.85v2.45H874.98zM877.92 675.03H955.65v2.45H877.92zM880.33 677.23H961.83v2.45H880.33zM878.12 679.42H947.36v2.45H878.12zM875.57 681.62H956.91v2.45H875.57zM875.13 683.81H944.58v2.45H875.13zM876.14 686.01H962.62v2.45H876.14zM876.69 688.2H957.19v2.45H876.69zM881.41 690.4H953.94v2.45H881.41zM887.69 692.6H961.29v2.45H887.69zM884 694.79H952.89v2.45H884zM881.12 696.99H960.93v2.45H881.12zM882.68 699.18H956.74v2.45H882.68zM875.8 701.38H962.28v2.45H875.8zM880.16 703.58H955.31v2.45H880.16zM877.72 705.77H955.52v2.45H877.72zM877.62 707.97H955.85v2.45H877.62zM880.46 710.16H958.27v2.45H880.46zM878.59 712.36H956.28v2.45H878.59zM879.11 714.55H964.99v2.45H879.11zM876.45 716.75H957.11v2.45H876.45zM878.16 718.95H956.96v2.45H878.16zM877.8 721.14H963.11v2.45H877.8zM870.63 723.34H963.18v2.45H870.63zM878.56 725.53H962.1v2.45H878.56zM879.59 727.73H955.75v2.45H879.59zM877.08 729.93H952.63v2.45H877.08zM881.89 732.12H958.18v2.45H881.89zM878.82 734.32H956.59v2.45H878.82zM875.96 736.51H955.97v2.45H875.96zM878.41 738.71H962.4v2.45H878.41zM880.93 740.9H951.78v2.45H880.93zM877.26 743.1H956.32v2.45H877.26zM876.91 745.3H962.49v2.45H876.91zM877.94 747.49H955.34v2.45H877.94zM872.96 749.69H952.76v2.45H872.96zM878.17 751.88H957.62v2.45H878.17zM879.76 754.08H948.15v2.45H879.76zM879.69 756.28H959.47v2.45H879.69zM875.6 758.47H953.42v2.45H875.6zM880.54 760.67H953.98v2.45H880.54zM876.48 762.86H944v2.45H876.48zM879.37 765.06H949.38v2.45H879.37zM880.29 767.25H960.53v2.45H880.29zM877.89 769.45H950.94v2.45H877.89zM877.05 771.65H956.14v2.45H877.05zM880.84 773.84H947v2.45H880.84zM872.13 776.04H962.25v2.45H872.13zM881.6 778.23H962.68v2.45H881.6zM877.21 780.43H957.32v2.45H877.21zM876.22 782.62H960.62v2.45H876.22zM875.98 784.82H953.87v2.45H875.98zM880 787.02H953.03v2.45H880zM876.64 789.21H951.89v2.45H876.64zM876.8 791.41H958.62v2.45H876.8zM877.21 793.6H958.88v2.45H877.21zM877.56 795.8H957.57v2.45H877.56zM875.87 798H940.5v2.45H875.87zM877.93 800.19H955.53v2.45H877.93zM875.15 802.39H952.72v2.45H875.15zM878.51 804.58H960.42v2.45H878.51zM878.37 806.78H957.44v2.45H878.37zM875.83 808.98H962.68v2.45H875.83zM878.11 811.17H958.88v2.45H878.11zM873.62 813.37H957.5v2.45H873.62zM876.84 815.56H954.32v2.45H876.84zM877.93 817.76H962.57v2.45H877.93zM877.92 819.95H954.57v2.45H877.92zM880.33 822.15H955.34v2.45H880.33zM879.15 824.35H952.99v2.45H879.15zM880.67 826.54H956.45v2.45H880.67zM875.04 828.74H952.64v2.45H875.04zM873.2 830.93H954.07v2.45H873.2zM877.56 833.13H959.6v2.45H877.56zM874.57 835.33H955.36v2.45H874.57zM877.22 837.52H943.5v2.45H877.22zM878.62 839.72H957.89v2.45H878.62zM879.64 841.91H956.95v2.45H879.64zM878.16 844.11H959.2v2.45H878.16zM876.07 846.3H940v2.45H876.07zM879.55 848.5H941.5v2.45H879.55zM879.51 850.7H952.83v2.45H879.51zM875.84 852.89H963.5v2.45H875.84zM917.8 855.09H1013.6v2.45H917.8zM887.5 857.28H971.4v2.45H887.5zM878.55 859.48H953.56v2.45H878.55zM875.4 861.68H944v2.45H875.4zM874.81 863.87H953.7v2.45H874.81zM873.02 866.07H955.96v2.45H873.02zM875.83 868.26H950.97v2.45H875.83zM873.34 870.46H954.91v2.45H873.34zM875.12 872.65H939.15v2.45H875.12zM875.41 874.85H950.62v2.45H875.41zM875.2 877.05H954.65v2.45H875.2zM871.43 879.24H943.34v2.45H871.43zM875.08 881.44H946.68v2.45H875.08zM842.5 883.63H893.5v2.45H842.5zM863 885.83H925.5v2.45H863zM866.5 888.03H927v2.45H866.5zM866 890.22H926v2.45H866zM862.8 892.42H924.5v2.45H862.8zM866 894.61H923.8v2.45H866zM848.4 896.81H909.5v2.45H848.4zM848 899H908.6v2.45H848z" fill="#E86C45"/>
<path d="M780.86 585H872.77v2.45H780.86zM781.29 587.2H869.03v2.45H781.29zM780.15 589.39H872.68v2.45H780.15zM778.71 591.59H872.23v2.45H778.71zM779.51 593.78H867.89v2.45H779.51zM781.79 595.98H870.7v2.45H781.79zM782.43 598.17H870.91v2.45H782.43zM782.07 600.37H868.3v2.45H782.07zM780.95 602.57H873.65v2.45H780.95zM782.12 604.76H868.38v2.45H782.12zM781.71 606.96H873.18v2.45H781.71zM779.39 609.15H871.83v2.45H779.39zM781.56 611.35H870.39v2.45H781.56zM780.22 613.55H874.78v2.45H780.22zM779.92 615.74H871.74v2.45H779.92zM783.09 617.94H860.5v2.45H783.09zM782.59 620.13H872.3v2.45H782.59zM780.65 622.33H871.96v2.45H780.65zM782.84 624.52H870.94v2.45H782.84zM783.04 626.72H870.62v2.45H783.04zM781.76 628.92H872.14v2.45H781.76zM781.21 631.11H873.92v2.45H781.21zM780.09 633.31H873.55v2.45H780.09zM782.82 635.5H871.92v2.45H782.82zM783.65 637.7H866.95v2.45H783.65zM779.97 639.9H872.18v2.45H779.97zM780.99 642.09H872.19v2.45H780.99zM781.75 644.29H877.26v2.45H781.75zM781.98 646.48H875.14v2.45H781.98zM781.26 648.68H871.18v2.45H781.26zM783.08 650.88H869.49v2.45H783.08zM780.23 653.07H873.09v2.45H780.23zM783.62 655.27H874.29v2.45H783.62zM783.67 657.46H874.33v2.45H783.67zM780.65 659.66H873.89v2.45H780.65zM782.24 661.85H872.4v2.45H782.24zM782.09 664.05H875.09v2.45H782.09zM781.3 666.25H872.13v2.45H781.3zM782.25 668.44H874.14v2.45H782.25zM781.93 670.64H874.3v2.45H781.93zM780.96 672.83H874.98v2.45H780.96zM784.01 675.03H877.92v2.45H784.01zM781.61 677.23H880.33v2.45H781.61zM782.64 679.42H878.12v2.45H782.64zM781.27 681.62H875.57v2.45H781.27zM783.72 683.81H875.13v2.45H783.72zM782.53 686.01H876.14v2.45H782.53zM781.77 688.2H876.69v2.45H781.77zM782.05 690.4H881.41v2.45H782.05zM783.24 692.6H887.69v2.45H783.24zM784.89 694.79H884v2.45H784.89zM783.1 696.99H881.12v2.45H783.1zM782.74 699.18H882.68v2.45H782.74zM783.02 701.38H875.8v2.45H783.02zM783.4 703.58H880.16v2.45H783.4zM784.96 705.77H877.72v2.45H784.96zM781.49 707.97H877.62v2.45H781.49zM781.86 710.16H880.46v2.45H781.86zM783.52 712.36H878.59v2.45H783.52zM784.63 714.55H879.11v2.45H784.63zM782.83 716.75H876.45v2.45H782.83zM782.01 718.95H878.16v2.45H782.01zM783.78 721.14H877.8v2.45H783.78zM781.49 723.34H870.63v2.45H781.49zM781.49 725.53H878.56v2.45H781.49zM784.55 727.73H879.59v2.45H784.55zM784.36 729.93H877.08v2.45H784.36zM783.67 732.12H881.89v2.45H783.67zM783.7 734.32H878.82v2.45H783.7zM781.58 736.51H875.96v2.45H781.58zM783.89 738.71H878.41v2.45H783.89zM783.02 740.9H880.93v2.45H783.02zM782.76 743.1H877.26v2.45H782.76zM783.57 745.3H876.91v2.45H783.57zM782.76 747.49H877.94v2.45H782.76zM784.57 749.69H872.96v2.45H784.57zM781.69 751.88H878.17v2.45H781.69zM784.14 754.08H879.76v2.45H784.14zM782.06 756.28H879.69v2.45H782.06zM782.65 758.47H875.6v2.45H782.65zM784.37 760.67H880.54v2.45H784.37zM781.17 762.86H876.48v2.45H781.17zM784.11 765.06H879.37v2.45H784.11zM784.04 767.25H880.29v2.45H784.04zM781.87 769.45H877.89v2.45H781.87zM784.04 771.65H877.05v2.45H784.04zM782.25 773.84H880.84v2.45H782.25zM783.42 776.04H872.13v2.45H783.42zM784.54 778.23H881.6v2.45H784.54zM784.61 780.43H877.21v2.45H784.61zM783.71 782.62H876.22v2.45H783.71zM782.39 784.82H875.98v2.45H782.39zM780.92 787.02H880v2.45H780.92zM783.72 789.21H876.64v2.45H783.72zM783.41 791.41H876.8v2.45H783.41zM783.6 793.6H877.21v2.45H783.6zM782.38 795.8H877.56v2.45H782.38zM784.41 798H875.87v2.45H784.41zM781.97 800.19H877.93v2.45H781.97zM782.44 802.39H875.15v2.45H782.44zM782.48 804.58H878.51v2.45H782.48zM783.81 806.78H878.37v2.45H783.81zM783.17 808.98H875.83v2.45H783.17zM783.31 811.17H878.11v2.45H783.31zM781.67 813.37H873.62v2.45H781.67zM782.3 815.56H876.84v2.45H782.3zM782.59 817.76H877.93v2.45H782.59zM783.53 819.95H877.92v2.45H783.53zM781.29 822.15H880.33v2.45H781.29zM781.51 824.35H879.15v2.45H781.51zM783.05 826.54H880.67v2.45H783.05zM783.84 828.74H875.04v2.45H783.84zM783.56 830.93H873.2v2.45H783.56zM782.15 833.13H877.56v2.45H782.15zM783.2 835.33H874.57v2.45H783.2zM780.53 837.52H877.22v2.45H780.53zM782.23 839.72H878.62v2.45H782.23zM782.81 841.91H879.64v2.45H782.81zM781.65 844.11H878.16v2.45H781.65zM782.23 846.3H876.07v2.45H782.23zM781.41 848.5H879.55v2.45H781.41zM783.15 850.7H879.51v2.45H783.15zM781.93 852.89H875.84v2.45H781.93zM801.2 855.09H917.8v2.45H801.2zM781.28 857.28H887.5v2.45H781.28zM782.02 859.48H878.55v2.45H782.02zM779.61 861.68H875.4v2.45H779.61zM779.55 863.87H874.81v2.45H779.55zM782.09 866.07H873.02v2.45H782.09zM780.01 868.26H875.83v2.45H780.01zM782.7 870.46H873.34v2.45H782.7zM781.22 872.65H875.12v2.45H781.22zM778.67 874.85H875.41v2.45H778.67zM780.58 877.05H875.2v2.45H780.58zM778.92 879.24H871.43v2.45H778.92zM781.25 881.44H875.08v2.45H781.25zM775.5 883.63H842.5v2.45H775.5zM779 885.83H863v2.45H779zM779.5 888.03H866.5v2.45H779.5zM778.8 890.22H866v2.45H778.8zM778.4 892.42H862.8v2.45H778.4zM778 894.61H866v2.45H778zM777.6 896.81H848.4v2.45H777.6zM777.4 899H848v2.45H777.4z" fill="#2E80B5"/>
<path d="M704.9 585H780.86v2.45H704.9zM704.9 587.2H781.29v2.45H704.9zM704.9 589.39H780.15v2.45H704.9zM704.9 591.59H778.71v2.45H704.9zM704.9 593.78H779.51v2.45H704.9zM704.9 595.98H781.79v2.45H704.9zM704.9 598.17H782.43v2.45H704.9zM704.9 600.37H782.07v2.45H704.9zM704.9 602.57H780.95v2.45H704.9zM704.9 604.76H782.12v2.45H704.9zM704.9 606.96H781.71v2.45H704.9zM704.9 609.15H779.39v2.45H704.9zM704.9 611.35H781.56v2.45H704.9zM704.9 613.55H780.22v2.45H704.9zM704.9 615.74H779.92v2.45H704.9zM704.9 617.94H783.09v2.45H704.9zM704.9 620.13H782.59v2.45H704.9zM704.9 622.33H780.65v2.45H704.9zM704.9 624.52H782.84v2.45H704.9zM704.9 626.72H783.04v2.45H704.9zM704.9 628.92H781.76v2.45H704.9zM704.9 631.11H781.21v2.45H704.9zM704.9 633.31H780.09v2.45H704.9zM704.9 635.5H782.82v2.45H704.9zM704.9 637.7H783.65v2.45H704.9zM704.9 639.9H779.97v2.45H704.9zM704.9 642.09H780.99v2.45H704.9zM704.9 644.29H781.75v2.45H704.9zM704.9 646.48H781.98v2.45H704.9zM704.9 648.68H781.26v2.45H704.9zM704.9 650.88H783.08v2.45H704.9zM704.9 653.07H780.23v2.45H704.9zM704.9 655.27H783.62v2.45H704.9zM704.9 657.46H783.67v2.45H704.9zM704.9 659.66H780.65v2.45H704.9zM704.9 661.85H782.24v2.45H704.9zM704.9 664.05H782.09v2.45H704.9zM704.9 666.25H781.3v2.45H704.9zM704.9 668.44H782.25v2.45H704.9zM704.9 670.64H781.93v2.45H704.9zM704.9 672.83H780.96v2.45H704.9zM704.9 675.03H784.01v2.45H704.9zM704.9 677.23H781.61v2.45H704.9zM704.9 679.42H782.64v2.45H704.9zM704.9 681.62H781.27v2.45H704.9zM704.9 683.81H783.72v2.45H704.9zM704.9 686.01H782.53v2.45H704.9zM704.9 688.2H781.77v2.45H704.9zM704.9 690.4H782.05v2.45H704.9zM704.9 692.6H783.24v2.45H704.9zM704.9 694.79H784.89v2.45H704.9zM704.9 696.99H783.1v2.45H704.9zM704.9 699.18H782.74v2.45H704.9zM704.9 701.38H783.02v2.45H704.9zM704.9 703.58H783.4v2.45H704.9zM704.9 705.77H784.96v2.45H704.9zM704.9 707.97H781.49v2.45H704.9zM704.9 710.16H781.86v2.45H704.9zM704.9 712.36H783.52v2.45H704.9zM704.9 714.55H784.63v2.45H704.9zM704.9 716.75H782.83v2.45H704.9zM704.9 718.95H782.01v2.45H704.9zM704.9 721.14H783.78v2.45H704.9zM704.9 723.34H781.49v2.45H704.9zM704.9 725.53H781.49v2.45H704.9zM704.9 727.73H784.55v2.45H704.9zM704.9 729.93H784.36v2.45H704.9zM704.9 732.12H783.67v2.45H704.9zM704.9 734.32H783.7v2.45H704.9zM704.9 736.51H781.58v2.45H704.9zM704.9 738.71H783.89v2.45H704.9zM704.9 740.9H783.02v2.45H704.9zM704.9 743.1H782.76v2.45H704.9zM704.9 745.3H783.57v2.45H704.9zM704.9 747.49H782.76v2.45H704.9zM704.9 749.69H784.57v2.45H704.9zM704.9 751.88H781.69v2.45H704.9zM704.9 754.08H784.14v2.45H704.9zM704.9 756.28H782.06v2.45H704.9zM704.9 758.47H782.65v2.45H704.9zM704.9 760.67H784.37v2.45H704.9zM704.9 762.86H781.17v2.45H704.9zM704.9 765.06H784.11v2.45H704.9zM704.9 767.25H784.04v2.45H704.9zM704.9 769.45H781.87v2.45H704.9zM704.9 771.65H784.04v2.45H704.9zM704.9 773.84H782.25v2.45H704.9zM704.9 776.04H783.42v2.45H704.9zM704.9 778.23H784.54v2.45H704.9zM704.9 780.43H784.61v2.45H704.9zM704.9 782.62H783.71v2.45H704.9zM704.9 784.82H782.39v2.45H704.9zM704.9 787.02H780.92v2.45H704.9zM704.9 789.21H783.72v2.45H704.9zM704.9 791.41H783.41v2.45H704.9zM704.9 793.6H783.6v2.45H704.9zM704.9 795.8H782.38v2.45H704.9zM704.9 798H784.41v2.45H704.9zM704.9 800.19H781.97v2.45H704.9zM704.9 802.39H782.44v2.45H704.9zM704.9 804.58H782.48v2.45H704.9zM704.9 806.78H783.81v2.45H704.9zM704.9 808.98H783.17v2.45H704.9zM704.9 811.17H783.31v2.45H704.9zM704.9 813.37H781.67v2.45H704.9zM704.9 815.56H782.3v2.45H704.9zM704.9 817.76H782.59v2.45H704.9zM704.9 819.95H783.53v2.45H704.9zM704.9 822.15H781.29v2.45H704.9zM704.9 824.35H781.51v2.45H704.9zM704.9 826.54H783.05v2.45H704.9zM704.9 828.74H783.84v2.45H704.9zM704.9 830.93H783.56v2.45H704.9zM704.9 833.13H782.15v2.45H704.9zM704.9 835.33H783.2v2.45H704.9zM704.9 837.52H780.53v2.45H704.9zM704.9 839.72H782.23v2.45H704.9zM704.9 841.91H782.81v2.45H704.9zM704.9 844.11H781.65v2.45H704.9zM704.9 846.3H782.23v2.45H704.9zM704.9 848.5H781.41v2.45H704.9zM704.9 850.7H783.15v2.45H704.9zM704.9 852.89H781.93v2.45H704.9zM704.9 855.09H801.2v2.45H704.9zM704.9 857.28H781.28v2.45H704.9zM704.9 859.48H782.02v2.45H704.9zM704.9 861.68H779.61v2.45H704.9zM704.9 863.87H779.55v2.45H704.9zM704.9 866.07H782.09v2.45H704.9zM704.9 868.26H780.01v2.45H704.9zM704.9 870.46H782.7v2.45H704.9zM704.9 872.65H781.22v2.45H704.9zM704.9 874.85H778.67v2.45H704.9zM704.9 877.05H780.58v2.45H704.9zM704.9 879.24H778.92v2.45H704.9zM704.9 881.44H781.25v2.45H704.9zM704.9 883.63H775.5v2.45H704.9zM704.9 885.83H779v2.45H704.9zM704.9 888.03H779.5v2.45H704.9zM704.9 890.22H778.8v2.45H704.9zM704.9 892.42H778.4v2.45H704.9zM704.9 894.61H778v2.45H704.9zM704.9 896.81H777.6v2.45H704.9zM704.9 899H777.4v2.45H704.9z" fill="#CF1820"/>
<path d="M944.31 585h0.9v2.2h-0.9zM937.41 587.2h0.9v2.2h-0.9zM947.47 589.39h0.9v2.2h-0.9zM953.79 591.59h0.9v2.2h-0.9zM944.02 593.78h0.9v2.2h-0.9zM944.53 595.98h0.9v2.2h-0.9zM949.81 598.17h0.9v2.2h-0.9zM943.67 600.37h0.9v2.2h-0.9zM947.68 602.57h0.9v2.2h-0.9zM942.77 604.76h0.9v2.2h-0.9zM949.36 606.96h0.9v2.2h-0.9zM950.5 609.15h0.9v2.2h-0.9zM951.67 611.35h0.9v2.2h-0.9zM946.36 613.55h0.9v2.2h-0.9zM946.29 615.74h0.9v2.2h-0.9zM920 617.94h0.9v2.2h-0.9zM945.92 620.13h0.9v2.2h-0.9zM951.86 622.33h0.9v2.2h-0.9zM954.68 624.52h0.9v2.2h-0.9zM949.96 626.72h0.9v2.2h-0.9zM954.74 628.92h0.9v2.2h-0.9zM963.54 631.11h0.9v2.2h-0.9zM949.92 633.31h0.9v2.2h-0.9zM950.11 635.5h0.9v2.2h-0.9zM947.43 637.7h0.9v2.2h-0.9zM943.4 639.9h0.9v2.2h-0.9zM948.4 642.09h0.9v2.2h-0.9zM947.85 644.29h0.9v2.2h-0.9zM958.99 646.48h0.9v2.2h-0.9zM946.56 648.68h0.9v2.2h-0.9zM949.51 650.88h0.9v2.2h-0.9zM952.37 653.07h0.9v2.2h-0.9zM948.82 655.27h0.9v2.2h-0.9zM931.5 657.46h0.9v2.2h-0.9zM934 659.66h0.9v2.2h-0.9zM951.82 661.85h0.9v2.2h-0.9zM958.16 664.05h0.9v2.2h-0.9zM966.02 666.25h0.9v2.2h-0.9zM953.34 668.44h0.9v2.2h-0.9zM952.22 670.64h0.9v2.2h-0.9zM951.85 672.83h0.9v2.2h-0.9zM955.65 675.03h0.9v2.2h-0.9zM961.83 677.23h0.9v2.2h-0.9zM947.36 679.42h0.9v2.2h-0.9zM956.91 681.62h0.9v2.2h-0.9zM944.58 683.81h0.9v2.2h-0.9zM962.62 686.01h0.9v2.2h-0.9zM957.19 688.2h0.9v2.2h-0.9zM953.94 690.4h0.9v2.2h-0.9zM961.29 692.6h0.9v2.2h-0.9zM952.89 694.79h0.9v2.2h-0.9zM960.93 696.99h0.9v2.2h-0.9zM956.74 699.18h0.9v2.2h-0.9zM962.28 701.38h0.9v2.2h-0.9zM955.31 703.58h0.9v2.2h-0.9zM955.52 705.77h0.9v2.2h-0.9zM955.85 707.97h0.9v2.2h-0.9zM958.27 710.16h0.9v2.2h-0.9zM956.28 712.36h0.9v2.2h-0.9zM964.99 714.55h0.9v2.2h-0.9zM957.11 716.75h0.9v2.2h-0.9zM956.96 718.95h0.9v2.2h-0.9zM963.11 721.14h0.9v2.2h-0.9zM963.18 723.34h0.9v2.2h-0.9zM962.1 725.53h0.9v2.2h-0.9zM955.75 727.73h0.9v2.2h-0.9zM952.63 729.93h0.9v2.2h-0.9zM958.18 732.12h0.9v2.2h-0.9zM956.59 734.32h0.9v2.2h-0.9zM955.97 736.51h0.9v2.2h-0.9zM962.4 738.71h0.9v2.2h-0.9zM951.78 740.9h0.9v2.2h-0.9zM956.32 743.1h0.9v2.2h-0.9zM962.49 745.3h0.9v2.2h-0.9zM955.34 747.49h0.9v2.2h-0.9zM952.76 749.69h0.9v2.2h-0.9zM957.62 751.88h0.9v2.2h-0.9zM948.15 754.08h0.9v2.2h-0.9zM959.47 756.28h0.9v2.2h-0.9zM953.42 758.47h0.9v2.2h-0.9zM953.98 760.67h0.9v2.2h-0.9zM944 762.86h0.9v2.2h-0.9zM949.38 765.06h0.9v2.2h-0.9zM960.53 767.25h0.9v2.2h-0.9zM950.94 769.45h0.9v2.2h-0.9zM956.14 771.65h0.9v2.2h-0.9zM947 773.84h0.9v2.2h-0.9zM962.25 776.04h0.9v2.2h-0.9zM962.68 778.23h0.9v2.2h-0.9zM957.32 780.43h0.9v2.2h-0.9zM960.62 782.62h0.9v2.2h-0.9zM953.87 784.82h0.9v2.2h-0.9zM953.03 787.02h0.9v2.2h-0.9zM951.89 789.21h0.9v2.2h-0.9zM958.62 791.41h0.9v2.2h-0.9zM958.88 793.6h0.9v2.2h-0.9zM957.57 795.8h0.9v2.2h-0.9zM940.5 798h0.9v2.2h-0.9zM955.53 800.19h0.9v2.2h-0.9zM952.72 802.39h0.9v2.2h-0.9zM960.42 804.58h0.9v2.2h-0.9zM957.44 806.78h0.9v2.2h-0.9zM962.68 808.98h0.9v2.2h-0.9zM958.88 811.17h0.9v2.2h-0.9zM957.5 813.37h0.9v2.2h-0.9zM954.32 815.56h0.9v2.2h-0.9zM962.57 817.76h0.9v2.2h-0.9zM954.57 819.95h0.9v2.2h-0.9zM955.34 822.15h0.9v2.2h-0.9zM952.99 824.35h0.9v2.2h-0.9zM956.45 826.54h0.9v2.2h-0.9zM952.64 828.74h0.9v2.2h-0.9zM954.07 830.93h0.9v2.2h-0.9zM959.6 833.13h0.9v2.2h-0.9zM955.36 835.33h0.9v2.2h-0.9zM943.5 837.52h0.9v2.2h-0.9zM957.89 839.72h0.9v2.2h-0.9zM956.95 841.91h0.9v2.2h-0.9zM959.2 844.11h0.9v2.2h-0.9zM940 846.3h0.9v2.2h-0.9zM941.5 848.5h0.9v2.2h-0.9zM952.83 850.7h0.9v2.2h-0.9zM963.5 852.89h0.9v2.2h-0.9zM1013.6 855.09h0.9v2.2h-0.9zM971.4 857.28h0.9v2.2h-0.9zM953.56 859.48h0.9v2.2h-0.9zM944 861.68h0.9v2.2h-0.9zM953.7 863.87h0.9v2.2h-0.9zM955.96 866.07h0.9v2.2h-0.9zM950.97 868.26h0.9v2.2h-0.9zM954.91 870.46h0.9v2.2h-0.9zM939.15 872.65h0.9v2.2h-0.9zM950.62 874.85h0.9v2.2h-0.9zM954.65 877.05h0.9v2.2h-0.9zM943.34 879.24h0.9v2.2h-0.9zM946.68 881.44h0.9v2.2h-0.9zM893.5 883.63h0.9v2.2h-0.9zM925.5 885.83h0.9v2.2h-0.9zM927 888.03h0.9v2.2h-0.9zM926 890.22h0.9v2.2h-0.9zM924.5 892.42h0.9v2.2h-0.9zM923.8 894.61h0.9v2.2h-0.9zM909.5 896.81h0.9v2.2h-0.9zM908.6 899h0.9v2.2h-0.9z" fill="#1E9440"/>
<line x1="704.3" y1="901.5" x2="1013" y2="901.5" stroke="#9c9c9c" stroke-width="1.3"/>
<line x1="704.9" y1="901.5" x2="704.9" y2="907.6" stroke="#3c3c3c" stroke-width="1.15"/>
<line x1="765.72" y1="901.5" x2="765.72" y2="907.6" stroke="#3c3c3c" stroke-width="1.15"/>
<line x1="826.54" y1="901.5" x2="826.54" y2="907.6" stroke="#3c3c3c" stroke-width="1.15"/>
<line x1="887.36" y1="901.5" x2="887.36" y2="907.6" stroke="#3c3c3c" stroke-width="1.15"/>
<line x1="948.18" y1="901.5" x2="948.18" y2="907.6" stroke="#3c3c3c" stroke-width="1.15"/>
<line x1="1009" y1="901.5" x2="1009" y2="907.6" stroke="#3c3c3c" stroke-width="1.15"/>
<text x="698.4" y="930.7" font-size="18" textLength="12.51" lengthAdjust="spacingAndGlyphs">0</text>
<text x="792.61" y="930.7" font-size="18" textLength="66.83" lengthAdjust="spacingAndGlyphs">20,000</text>
<text x="915.17" y="930.7" font-size="18" textLength="65.35" lengthAdjust="spacingAndGlyphs">40,000</text>
<text x="786.64" y="963.3" font-size="21.5" textLength="141.92" lengthAdjust="spacingAndGlyphs" class="bg">Gene number</text>
<path d="M872.2 1002.2a5 5 0 0 1 10 0" stroke="#8a8a8a" stroke-width="1.4" fill="none"/>
</g>
</svg>
</body>
</html>
